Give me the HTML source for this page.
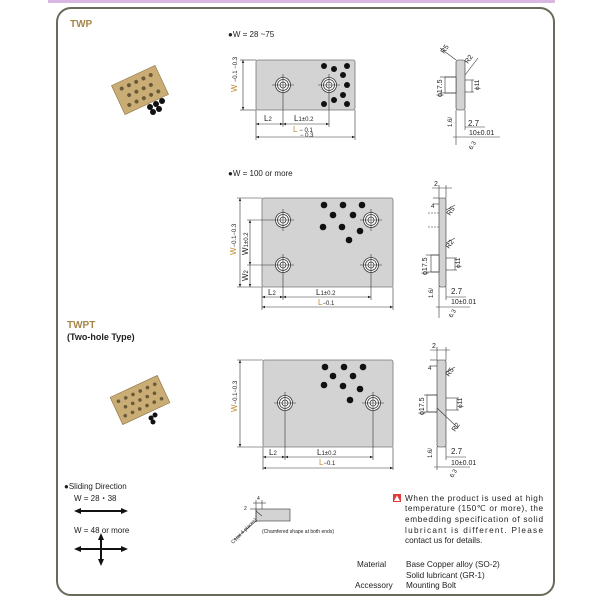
<!DOCTYPE html>
<html><head><meta charset="utf-8"><style>
html,body{margin:0;padding:0;background:#fff;}
svg{display:block;font-family:"Liberation Sans",sans-serif;}
</style></head><body>
<svg width="600" height="600" viewBox="0 0 600 600" xmlns="http://www.w3.org/2000/svg">
<defs>
<marker id="a" markerWidth="6" markerHeight="6" refX="5" refY="3" orient="auto"><path d="M0,1 L5,3 L0,5z" fill="#222"/></marker>
<marker id="b" markerWidth="6" markerHeight="6" refX="1" refY="3" orient="auto"><path d="M6,1 L1,3 L6,5z" fill="#222"/></marker>
<g id="hole"><circle r="7.5" fill="#fff" stroke="#333" stroke-width="0.8"/><circle r="5.5" fill="none" stroke="#333" stroke-width="0.8"/><circle r="3" fill="#fff" stroke="#333" stroke-width="0.8"/><line x1="-11" y1="0" x2="11" y2="0" stroke="#333" stroke-width="0.6"/><line x1="0" y1="-11" x2="0" y2="11" stroke="#333" stroke-width="0.6"/></g>
</defs>
<rect x="48" y="0" width="507" height="3" fill="#d8b8e0"/>
<rect x="57" y="8" width="497" height="587" rx="14" fill="none" stroke="#6a6a5a" stroke-width="2"/>

<!-- TWP -->
<text x="70" y="27" font-size="10" font-weight="bold" fill="#a8864a">TWP</text>
<g transform="translate(140,90) rotate(-25)">
<rect x="-24" y="-16" width="48" height="32" fill="#c9ad75" stroke="#8a7040" stroke-width="0.6"/>
<g fill="#6a5a3a"><circle cx="-16" cy="-9" r="2"/><circle cx="-8" cy="-9" r="2"/><circle cx="0" cy="-9" r="2"/><circle cx="8" cy="-9" r="2"/><circle cx="16" cy="-9" r="2"/><circle cx="-12" cy="0" r="2"/><circle cx="-4" cy="0" r="2"/><circle cx="4" cy="0" r="2"/><circle cx="12" cy="0" r="2"/><circle cx="-16" cy="9" r="2"/><circle cx="-8" cy="9" r="2"/><circle cx="0" cy="9" r="2"/><circle cx="8" cy="9" r="2"/><circle cx="16" cy="9" r="2"/></g></g>
<g fill="#111"><circle cx="150" cy="107" r="3"/><circle cx="156" cy="104" r="3"/><circle cx="162" cy="101" r="3"/><circle cx="153" cy="112" r="3"/><circle cx="159" cy="109" r="3"/></g>

<text x="228" y="37" font-size="8" fill="#222">●W = 28 ~75</text>
<rect x="256" y="60" width="99" height="50" rx="2" fill="#d3d3d3" stroke="#777" stroke-width="0.8"/>
<use href="#hole" x="283" y="85"/><use href="#hole" x="329" y="85"/>
<g fill="#111"><circle cx="324" cy="66" r="3"/><circle cx="334" cy="69" r="3"/><circle cx="347" cy="66" r="3"/><circle cx="343" cy="75" r="3"/><circle cx="347" cy="85" r="3"/><circle cx="343" cy="95" r="3"/><circle cx="334" cy="100" r="3"/><circle cx="324" cy="104" r="3"/><circle cx="347" cy="104" r="3"/></g>
<g stroke="#333" stroke-width="0.6" fill="none">
<line x1="243" y1="60" x2="243" y2="110" marker-start="url(#b)" marker-end="url(#a)"/><line x1="240" y1="60" x2="256" y2="60"/><line x1="240" y1="110" x2="256" y2="110"/>
<line x1="256" y1="110" x2="256" y2="140"/><line x1="355" y1="110" x2="355" y2="140"/><line x1="283" y1="96" x2="283" y2="127"/><line x1="329" y1="96" x2="329" y2="127"/>
<line x1="256" y1="124" x2="283" y2="124" marker-start="url(#b)" marker-end="url(#a)"/><line x1="283" y1="124" x2="329" y2="124" marker-start="url(#b)" marker-end="url(#a)"/>
<line x1="256" y1="137" x2="355" y2="137" marker-start="url(#b)" marker-end="url(#a)"/>
</g>
<text x="237" y="92" font-size="8" fill="#c08a30" transform="rotate(-90 237 92)">W <tspan fill="#222" font-size="6">−0.1 −0.3</tspan></text>
<text x="264" y="121" font-size="8" fill="#222">L<tspan font-size="6">2</tspan></text>
<text x="294" y="121" font-size="8" fill="#222">L<tspan font-size="6">1±0.2</tspan></text>
<text x="293" y="132" font-size="8" fill="#c08a30">L <tspan fill="#222" font-size="6">− 0.1</tspan></text>
<text x="300" y="137" font-size="6" fill="#222">− 0.3</text>
<!-- side 1 -->
<g stroke="#333" stroke-width="0.6" fill="none">
<rect x="456" y="60" width="9" height="50" rx="2" fill="#d3d3d3"/>
<rect x="445" y="77" width="11" height="16" fill="#fff"/>
<line x1="440" y1="77" x2="456" y2="77"/><line x1="440" y1="93" x2="456" y2="93"/>
<line x1="472" y1="80" x2="472" y2="92"/><line x1="465" y1="80" x2="474" y2="80"/><line x1="465" y1="92" x2="474" y2="92"/>
<line x1="456" y1="110" x2="456" y2="145"/><line x1="465" y1="110" x2="465" y2="130"/>
<line x1="465" y1="127" x2="485" y2="127"/><line x1="453" y1="137" x2="500" y2="137"/>
<line x1="440" y1="48" x2="456" y2="60"/><line x1="465" y1="75" x2="478" y2="58"/>
</g>
<text x="444" y="54" font-size="7" fill="#222" transform="rotate(-55 444 54)">R5</text>
<text x="468" y="64" font-size="7" fill="#222" transform="rotate(-55 468 64)">R2</text>
<text x="442" y="97" font-size="7" fill="#222" transform="rotate(-90 442 97)">ϕ17.5</text>
<text x="479" y="90" font-size="6.5" fill="#222" transform="rotate(-90 479 90)">ϕ11</text>
<text x="452" y="127" font-size="6" fill="#222" transform="rotate(-90 452 127)">1.6/</text>
<text x="468" y="126" font-size="8" fill="#222">2.7</text>
<text x="469" y="135" font-size="7" fill="#222">10±0.01</text>
<text x="472" y="150" font-size="6" fill="#222" transform="rotate(-60 472 150)">6.3</text>

<!-- W=100 -->
<text x="228" y="176" font-size="8" fill="#222">●W = 100 or more</text>
<rect x="262" y="198" width="131" height="89" rx="2" fill="#d3d3d3" stroke="#777" stroke-width="0.8"/>
<use href="#hole" x="283" y="220"/><use href="#hole" x="371" y="220"/><use href="#hole" x="283" y="265"/><use href="#hole" x="371" y="265"/>
<g fill="#111"><circle cx="324" cy="205" r="3.3"/><circle cx="343" cy="205" r="3.3"/><circle cx="362" cy="205" r="3.3"/><circle cx="333" cy="215" r="3.3"/><circle cx="353" cy="215" r="3.3"/><circle cx="323" cy="227" r="3.3"/><circle cx="342" cy="227" r="3.3"/><circle cx="360" cy="231" r="3.3"/><circle cx="349" cy="240" r="3.3"/></g>
<g stroke="#333" stroke-width="0.6" fill="none">
<line x1="240" y1="198" x2="240" y2="287" marker-start="url(#b)" marker-end="url(#a)"/><line x1="237" y1="198" x2="262" y2="198"/>
<line x1="237" y1="287" x2="262" y2="287"/><line x1="250" y1="220" x2="250" y2="265" marker-start="url(#b)" marker-end="url(#a)"/><line x1="250" y1="265" x2="250" y2="287" marker-end="url(#a)"/>
<line x1="247" y1="220" x2="272" y2="220"/><line x1="247" y1="265" x2="272" y2="265"/>
<line x1="262" y1="287" x2="262" y2="310"/><line x1="393" y1="287" x2="393" y2="310"/><line x1="283" y1="276" x2="283" y2="300"/><line x1="371" y1="276" x2="371" y2="300"/>
<line x1="262" y1="297" x2="283" y2="297" marker-start="url(#b)" marker-end="url(#a)"/><line x1="283" y1="297" x2="371" y2="297" marker-start="url(#b)" marker-end="url(#a)"/>
<line x1="262" y1="307" x2="393" y2="307" marker-start="url(#b)" marker-end="url(#a)"/>
</g>
<text x="236" y="255" font-size="8" fill="#c08a30" transform="rotate(-90 236 255)">W<tspan fill="#222" font-size="6">−0.1−0.3</tspan></text>
<text x="248" y="255" font-size="8" fill="#222" transform="rotate(-90 248 255)">W<tspan font-size="6">1±0.2</tspan></text>
<text x="248" y="281" font-size="8" fill="#222" transform="rotate(-90 248 281)">W<tspan font-size="6">2</tspan></text>
<text x="268" y="295" font-size="8" fill="#222">L<tspan font-size="6">2</tspan></text>
<text x="316" y="295" font-size="8" fill="#222">L<tspan font-size="6">1±0.2</tspan></text>
<text x="318" y="305" font-size="8" fill="#c08a30">L<tspan fill="#222" font-size="6">−0.1</tspan></text>
<!-- side 2 -->
<g stroke="#333" stroke-width="0.6" fill="none">
<rect x="439" y="198" width="7" height="89" rx="1.5" fill="#d3d3d3"/>
<rect x="431" y="255" width="8" height="17" fill="#fff"/>
<line x1="428" y1="213" x2="439" y2="213" stroke-dasharray="2,1"/><line x1="428" y1="227" x2="439" y2="227" stroke-dasharray="2,1"/>
<line x1="426" y1="255" x2="439" y2="255"/><line x1="426" y1="272" x2="439" y2="272"/>
<line x1="455" y1="258" x2="455" y2="270"/><line x1="446" y1="258" x2="457" y2="258"/><line x1="446" y1="270" x2="457" y2="270"/>
<line x1="439" y1="287" x2="439" y2="318"/><line x1="446" y1="287" x2="446" y2="300"/>
<line x1="446" y1="297" x2="466" y2="297"/><line x1="436" y1="307" x2="470" y2="307"/>
<line x1="439" y1="185" x2="439" y2="198"/><line x1="446" y1="185" x2="446" y2="198"/><line x1="432" y1="188" x2="452" y2="188"/>
<line x1="433" y1="204" x2="439" y2="204"/><line x1="433" y1="198" x2="439" y2="198"/>
<line x1="446" y1="210" x2="455" y2="205"/><line x1="446" y1="243" x2="455" y2="238"/>
</g>
<text x="434" y="186" font-size="7" fill="#222">2</text>
<text x="431" y="208" font-size="6" fill="#222">4</text>
<text x="450" y="216" font-size="7" fill="#222" transform="rotate(-55 450 216)">R5</text>
<text x="449" y="249" font-size="7" fill="#222" transform="rotate(-55 449 249)">R2</text>
<text x="427" y="275" font-size="7" fill="#222" transform="rotate(-90 427 275)">ϕ17.5</text>
<text x="460" y="268" font-size="6.5" fill="#222" transform="rotate(-90 460 268)">ϕ11</text>
<text x="433" y="298" font-size="6" fill="#222" transform="rotate(-90 433 298)">1.6/</text>
<text x="451" y="294" font-size="8" fill="#222">2.7</text>
<text x="451" y="304" font-size="7" fill="#222">10±0.01</text>
<text x="452" y="318" font-size="6" fill="#222" transform="rotate(-60 452 318)">6.3</text>

<!-- TWPT -->
<text x="67" y="328" font-size="10" font-weight="bold" fill="#a8864a">TWPT</text>
<text x="67" y="340" font-size="9" font-weight="bold" fill="#222">(Two-hole Type)</text>
<g transform="translate(140,400) rotate(-25)">
<rect x="-26" y="-15" width="52" height="30" fill="#c9ad75" stroke="#8a7040" stroke-width="0.6"/>
<g fill="#6a5a3a"><circle cx="-20" cy="-8" r="1.8"/><circle cx="-12" cy="-8" r="1.8"/><circle cx="-4" cy="-8" r="1.8"/><circle cx="4" cy="-8" r="1.8"/><circle cx="12" cy="-8" r="1.8"/><circle cx="20" cy="-8" r="1.8"/><circle cx="-16" cy="0" r="1.8"/><circle cx="-8" cy="0" r="1.8"/><circle cx="0" cy="0" r="1.8"/><circle cx="8" cy="0" r="1.8"/><circle cx="16" cy="0" r="1.8"/><circle cx="-20" cy="8" r="1.8"/><circle cx="-12" cy="8" r="1.8"/><circle cx="-4" cy="8" r="1.8"/><circle cx="4" cy="8" r="1.8"/><circle cx="12" cy="8" r="1.8"/><circle cx="20" cy="8" r="1.8"/></g></g>
<g fill="#111"><circle cx="151" cy="418" r="2.5"/><circle cx="155" cy="415" r="2.5"/><circle cx="153" cy="422" r="2.5"/></g>

<rect x="263" y="360" width="130" height="87" rx="2" fill="#d3d3d3" stroke="#777" stroke-width="0.8"/>
<use href="#hole" x="285" y="403"/><use href="#hole" x="373" y="403"/>
<g fill="#111"><circle cx="325" cy="367" r="3.3"/><circle cx="344" cy="367" r="3.3"/><circle cx="363" cy="367" r="3.3"/><circle cx="333" cy="376" r="3.3"/><circle cx="353" cy="376" r="3.3"/><circle cx="324" cy="385" r="3.3"/><circle cx="343" cy="386" r="3.3"/><circle cx="360" cy="389" r="3.3"/><circle cx="350" cy="400" r="3.3"/></g>
<g stroke="#333" stroke-width="0.6" fill="none">
<line x1="240" y1="360" x2="240" y2="447" marker-start="url(#b)" marker-end="url(#a)"/><line x1="237" y1="360" x2="263" y2="360"/><line x1="237" y1="447" x2="263" y2="447"/>
<line x1="263" y1="447" x2="263" y2="470"/><line x1="393" y1="447" x2="393" y2="470"/><line x1="285" y1="414" x2="285" y2="460"/><line x1="373" y1="414" x2="373" y2="460"/>
<line x1="263" y1="457" x2="285" y2="457" marker-start="url(#b)" marker-end="url(#a)"/><line x1="285" y1="457" x2="373" y2="457" marker-start="url(#b)" marker-end="url(#a)"/>
<line x1="263" y1="468" x2="393" y2="468" marker-start="url(#b)" marker-end="url(#a)"/>
</g>
<text x="237" y="412" font-size="8" fill="#c08a30" transform="rotate(-90 237 412)">W<tspan fill="#222" font-size="6">−0.1−0.3</tspan></text>
<text x="269" y="455" font-size="8" fill="#222">L<tspan font-size="6">2</tspan></text>
<text x="317" y="455" font-size="8" fill="#222">L<tspan font-size="6">1±0.2</tspan></text>
<text x="319" y="465" font-size="8" fill="#c08a30">L<tspan fill="#222" font-size="6">−0.1</tspan></text>
<!-- side 3 -->
<g stroke="#333" stroke-width="0.6" fill="none">
<rect x="437" y="360" width="9" height="87" rx="1.5" fill="#d3d3d3"/>
<rect x="427" y="395" width="10" height="17" fill="#fff"/>
<line x1="424" y1="395" x2="437" y2="395"/><line x1="424" y1="412" x2="437" y2="412"/>
<line x1="457" y1="398" x2="457" y2="410"/><line x1="446" y1="398" x2="459" y2="398"/><line x1="446" y1="410" x2="459" y2="410"/>
<line x1="437" y1="447" x2="437" y2="470"/><line x1="446" y1="447" x2="446" y2="460"/>
<line x1="446" y1="457" x2="466" y2="457"/><line x1="434" y1="467" x2="470" y2="467"/>
<line x1="437" y1="347" x2="437" y2="360"/><line x1="446" y1="347" x2="446" y2="360"/><line x1="430" y1="350" x2="450" y2="350"/>
<line x1="430" y1="360" x2="437" y2="360"/><line x1="430" y1="366" x2="437" y2="366"/>
<line x1="446" y1="372" x2="455" y2="367"/><line x1="437" y1="408" x2="458" y2="428"/>
</g>
<text x="432" y="348" font-size="7" fill="#222">2</text>
<text x="428" y="370" font-size="6" fill="#222">4</text>
<text x="449" y="377" font-size="7" fill="#222" transform="rotate(-55 449 377)">R5</text>
<text x="455" y="432" font-size="7" fill="#222" transform="rotate(-55 455 432)">R2</text>
<text x="424" y="415" font-size="7" fill="#222" transform="rotate(-90 424 415)">ϕ17.5</text>
<text x="462" y="408" font-size="6.5" fill="#222" transform="rotate(-90 462 408)">ϕ11</text>
<text x="432" y="458" font-size="6" fill="#222" transform="rotate(-90 432 458)">1.6/</text>
<text x="451" y="454" font-size="8" fill="#222">2.7</text>
<text x="451" y="465" font-size="7" fill="#222">10±0.01</text>
<text x="453" y="478" font-size="6" fill="#222" transform="rotate(-60 453 478)">6.3</text>

<!-- sliding direction -->
<text x="64" y="489" font-size="8" fill="#222">●Sliding Direction</text>
<text x="74" y="501" font-size="8" fill="#222">W = 28・38</text>
<g stroke="#111" stroke-width="2"><line x1="79" y1="511" x2="123" y2="511"/><line x1="79" y1="549" x2="123" y2="549"/><line x1="101" y1="537" x2="101" y2="562"/></g>
<g fill="#111"><path d="M74,511 L81,508 L81,514z"/><path d="M128,511 L121,508 L121,514z"/><path d="M74,549 L81,546 L81,552z"/><path d="M128,549 L121,546 L121,552z"/><path d="M101,533 L98,540 L104,540z"/><path d="M101,566 L98,559 L104,559z"/></g>
<text x="74" y="533" font-size="8" fill="#222">W = 48 or more</text>

<!-- chamfer -->
<g stroke="#333" stroke-width="0.6" fill="none">
<rect x="256" y="509" width="34" height="12" fill="#d3d3d3"/>
<line x1="250" y1="509" x2="256" y2="509"/><line x1="256" y1="500" x2="256" y2="522"/><line x1="262" y1="500" x2="262" y2="509"/>
<line x1="253" y1="503" x2="266" y2="503"/><line x1="234" y1="540" x2="256" y2="521"/><line x1="256" y1="511" x2="262" y2="516"/>
</g>
<text x="257" y="500" font-size="5" fill="#222">4</text>
<text x="244" y="510" font-size="5" fill="#222">2</text>
<text x="233" y="544" font-size="5" fill="#222" transform="rotate(-45 233 544)">C1(at 4 places)</text>
<text x="262" y="533" font-size="5" fill="#222">(Chamfered shape at both ends)</text>

<!-- warning -->
<rect x="393" y="494" width="8" height="8" fill="#e03a3a"/>
<path d="M397,495.5 L400,501 L394,501z" fill="#fff"/>
<g font-size="8.2" fill="#222">
<text x="405" y="501" textLength="138" lengthAdjust="spacing">When the product is used at high</text>
<text x="405" y="511" textLength="138" lengthAdjust="spacing">temperature (150℃ or more), the</text>
<text x="405" y="522" textLength="138" lengthAdjust="spacing">embedding specification of solid</text>
<text x="405" y="533" textLength="138" lengthAdjust="spacing">lubricant is different. Please</text>
<text x="405" y="543">contact us for details.</text>
<text x="357" y="567">Material</text>
<text x="406" y="567">Base Copper alloy (SO-2)</text>
<text x="406" y="578">Solid lubricant (GR-1)</text>
<text x="355" y="588">Accessory</text>
<text x="406" y="588">Mounting Bolt</text>
</g>
</svg>
</body></html>
